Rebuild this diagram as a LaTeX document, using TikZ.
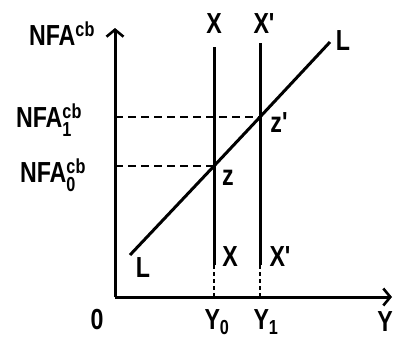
\documentclass[tikz,border=0pt]{standalone}
\usepackage{amsmath}
\usepackage{fontspec}
\setmainfont{Liberation Sans}
\newfontfamily\handfont[FakeStretch=0.8]{Liberation Sans}
\usetikzlibrary{arrows.meta,positioning}

\begin{document}
\begin{tikzpicture}[
  x=1pt, y=-1pt,
  curve/.style={line width=3pt},
  guide/.style={line width=2.4pt, dash pattern=on 8pt off 5pt},
  tail/.style={line width=2pt, dash pattern=on 4pt off 3pt},
  axis/.style={line width=3pt, -{Straight Barb[length=7pt,width=17pt,line width=2.6pt]}},
  lbl/.style={font=\handfont\fontsize{29}{29}\selectfont\bfseries, inner sep=1pt}
]
  \useasboundingbox (0,0) rectangle (393,341);

  % axes
  \coordinate (O) at (115,297);
  \coordinate (ytop) at (115,28);
  \coordinate (xend) at (392,297);
  \draw[axis] (O) -- (ytop);
  \draw[axis] (O) -- (xend);

  % X and X'
  \coordinate (xtop) at (214,47);
  \coordinate (xcut) at (214,265);
  \coordinate (xbot) at (214,297);
  \coordinate (xptop) at (260,43);
  \coordinate (xpcut) at (260,265);
  \coordinate (xpbot) at (260,297);
  \draw[curve] (xtop) -- (xcut);
  \draw[curve] (xptop) -- (xpcut);
  \draw[tail] (xcut) -- (xbot);
  \draw[tail] (xpcut) -- (xpbot);

  % LL
  \coordinate (lbeg) at (130,255);
  \coordinate (z) at (214,166);
  \coordinate (zp) at (260,117);
  \coordinate (lend) at (330,42);
  \draw[curve] (lbeg) -- (z) -- (zp) -- (lend);

  % dashed levels
  \coordinate (n1) at (115,117);
  \coordinate (n0) at (115,166);
  \draw[guide] (n1) -- (zp);
  \draw[guide] (n0) -- (z);

  % labels
  \node[lbl] (nfa) at (62,34) {NFA$^{\text{cb}}$};
  \node[lbl] (nfa1) at (49,120) {NFA$^{\text{cb}}_{\text{1}}$};
  \node[lbl] (nfa0) at (53,175) {NFA$^{\text{cb}}_{\text{0}}$};
  \node[lbl] (xlbl) at (214,24) {X};
  \node[lbl] (xplbl) at (264,24) {X'};
  \node[lbl] (ltop) at (343,41) {L};
  \node[lbl] (lbot) at (143,268) {L};
  \node[lbl] (xlow) at (230,257) {X};
  \node[lbl] (xplow) at (280,257) {X'};
  \node[lbl] (zlbl) at (228,178) {z};
  \node[lbl] (zplbl) at (279,123) {z'};
  \node[lbl] (zero) at (97,320) {0};
  \node[lbl] (y0) at (217,322) {Y$_{\text{0}}$};
  \node[lbl] (y1) at (266,322) {Y$_{\text{1}}$};
  \node[lbl] (ylbl) at (385,322) {Y};
\end{tikzpicture}
\end{document}
